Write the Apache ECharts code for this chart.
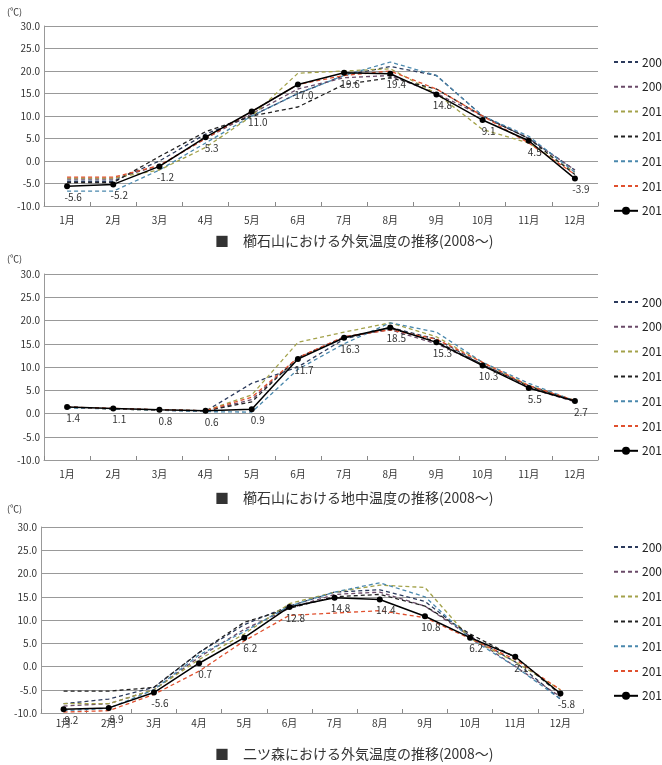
<!DOCTYPE html>
<html><head><meta charset="utf-8">
<script src="https://cdn.jsdelivr.net/npm/echarts@6/dist/echarts.min.js"></script>
<style>html,body{margin:0;padding:0;background:#fff;}#c{width:662px;height:765px;}</style>
</head><body><div id="c"></div>
<script>
const months = ['1月','2月','3月','4月','5月','6月','7月','8月','9月','10月','11月','12月'];
const years = ['2008','2009','2010','2011','2012','2013','2014'];
const yTicks = [-10, 30, 5];
const titles = [
  '■　櫛石山における外気温度の推移(2008～)',
  '■　櫛石山における地中温度の推移(2008～)',
  '■　二ツ森における外気温度の推移(2008～)'
];
// Panel 1: 櫛石山 外気温度
const p1_2008 = [-4.5,-4.5,0.0,6.0,10.0,15.0,19.0,21.0,19.0,10.0,5.0,-2.0];
const p1_2009 = [-4.0,-4.0,-1.0,5.0,10.5,16.0,18.5,19.0,15.0,10.0,5.0,-2.0];
const p1_2010 = [-3.8,-3.8,-2.0,3.0,10.0,19.5,20.0,20.5,15.0,7.0,4.0,-2.5];
const p1_2011 = [-4.8,-4.8,1.0,6.5,10.0,12.0,17.0,18.5,16.0,10.0,5.0,-3.0];
const p1_2012 = [-6.7,-6.7,-2.0,4.0,10.0,15.0,19.0,22.0,19.0,10.0,5.5,-2.5];
const p1_2013 = [-3.6,-3.6,-1.0,5.0,11.0,17.0,19.0,20.0,16.0,10.0,4.0,-3.0];
const p1_2014 = [-5.6,-5.2,-1.2,5.3,11.0,17.0,19.6,19.4,14.8,9.1,4.5,-3.9];
// Panel 2: 櫛石山 地中温度
const p2_2008 = [1.4,1.0,0.8,0.5,6.5,10.0,16.0,18.5,16.0,10.5,6.0,2.7];
const p2_2009 = [1.3,1.0,0.7,0.5,3.0,12.0,16.5,18.0,15.0,10.5,5.5,2.5];
const p2_2010 = [1.3,1.0,0.7,0.6,4.0,15.3,17.5,19.5,16.5,11.0,6.0,2.8];
const p2_2011 = [1.4,1.0,0.8,0.6,2.5,12.0,16.3,18.3,15.5,10.5,5.8,2.7];
const p2_2012 = [1.2,1.0,0.7,0.4,0.3,9.5,15.0,19.5,17.5,11.0,6.5,2.7];
const p2_2013 = [1.4,1.1,0.8,0.6,3.5,12.0,16.5,18.0,16.0,11.0,6.0,2.8];
const p2_2014 = [1.4,1.1,0.8,0.6,0.9,11.7,16.3,18.5,15.3,10.3,5.5,2.7];
// Panel 3: 二ツ森 外気温度
const p3_2008 = [-8.0,-7.0,-4.5,3.0,9.0,13.0,16.0,16.5,14.0,6.5,1.0,-7.0];
const p3_2009 = [-8.5,-8.0,-5.0,2.0,8.0,12.5,15.5,16.0,13.0,6.5,0.0,-6.5];
const p3_2010 = [-8.0,-8.0,-5.0,1.5,7.0,13.5,16.0,17.5,17.0,6.0,1.0,-5.0];
const p3_2011 = [-5.3,-5.3,-4.5,3.0,9.5,12.5,15.0,15.5,13.0,7.0,2.0,-6.0];
const p3_2012 = [-9.5,-9.0,-5.0,2.5,7.5,13.0,16.0,18.0,15.0,6.0,0.0,-7.0];
const p3_2013 = [-9.8,-9.5,-6.0,-1.0,5.5,11.0,11.5,12.0,10.5,6.0,1.5,-5.0];
const p3_2014 = [-9.2,-8.9,-5.6,0.7,6.2,12.8,14.8,14.4,10.8,6.2,2.1,-5.8];

const panels = [
  [p1_2008,p1_2009,p1_2010,p1_2011,p1_2012,p1_2013,p1_2014],
  [p2_2008,p2_2009,p2_2010,p2_2011,p2_2012,p2_2013,p2_2014],
  [p3_2008,p3_2009,p3_2010,p3_2011,p3_2012,p3_2013,p3_2014]
];
const colors = ['#2b3a5c','#6a4a68','#a3a24a','#222222','#4a88ad','#e0502e','#000000'];
const FONT = '"Noto Sans CJK JP", sans-serif';

const layout = [
  {left:44, top:26, height:180, right:64, title:229, unit:7, legendTop:51},
  {left:44, top:274, height:186, right:64, title:486, unit:254, legendTop:291},
  {left:41, top:527, height:186, right:79, title:742, unit:504, legendTop:536}
];

const legendData = years.map((y,i)=> i===6 ? {name:y} : {name:y, itemStyle:{opacity:0}});

const grid=[], xAxis=[], yAxis=[], series=[], legend=[], title=[], graphic=[];
layout.forEach((L,g)=>{
  grid.push({left:L.left, top:L.top, height:L.height, right:L.right});
  xAxis.push({type:'category', gridIndex:g, data:months, boundaryGap:true,
    axisLine:{show:false}, axisTick:{show:false},
    axisLabel:{fontSize:10, color:'#333', fontFamily:FONT, margin:(g===2?5:9)}});
  xAxis.push({type:'category', gridIndex:g, data:months, boundaryGap:true, position:'bottom',
    axisLine:{onZero:true, lineStyle:{color:'#999', width:1}},
    axisTick:{show:true, inside:true, interval:0, length:4, lineStyle:{color:'#888'}},
    axisLabel:{show:false}});
  yAxis.push({type:'value', gridIndex:g, min:yTicks[0], max:yTicks[1], interval:yTicks[2],
    axisLine:{show:true, lineStyle:{color:'#999'}}, axisTick:{show:false},
    axisLabel:{fontSize:10, color:'#333', fontFamily:FONT, margin:4, formatter:v=>v.toFixed(1)},
    splitLine:{lineStyle:{color:'#999', width:1}}});
  title.push({text:titles[g], left:210, top:L.title,
    textStyle:{fontSize:14, fontWeight:'normal', color:'#333', fontFamily:FONT}});
  graphic.push({type:'text', left:7, top:L.unit, style:{text:'(℃)', fontSize:9, fill:'#333', fontFamily:FONT}});
  legend.push({orient:'vertical', left:608, top:L.legendTop, itemWidth:24, itemHeight:10, itemGap:12.8,
    data:legendData, textStyle:{fontSize:12, color:'#222', fontFamily:FONT, padding:[0,0,0,-1]}});
  years.forEach((y,i)=>{
    const last = i===6;
    series.push({
      name:y, type:'line', xAxisIndex:g*2, yAxisIndex:g, data:panels[g][i],
      symbol: last?'circle':'none', symbolSize:6, showSymbol:last,
      lineStyle:{color:colors[i], width:last?1.5:1.3, type:last?'solid':[4,3]},
      itemStyle:{color:colors[i]},
      z: last?5:2,
      label: last?{show:true, position:'bottom', distance:3, offset:[6,0], fontSize:10, color:'#333', fontFamily:FONT, formatter:p=>p.value.toFixed(1)}:{show:false},
      animation:false
    });
  });
});

const chart = echarts.init(document.getElementById('c'));
chart.setOption({backgroundColor:'#fff', animation:false, grid, xAxis, yAxis, series, legend, title, graphic});
</script></body></html>
